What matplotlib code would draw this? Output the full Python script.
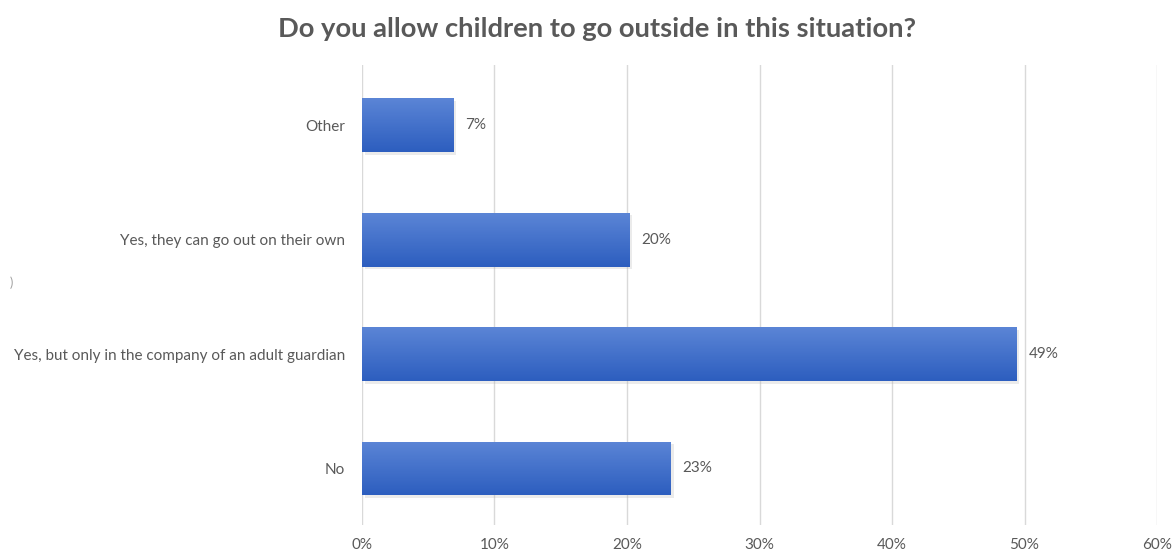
import numpy as np
import matplotlib.pyplot as plt
import matplotlib.patheffects as pe
from matplotlib.colors import LinearSegmentedColormap

# survey answers, bottom to top
answers = ['No', 'Yes, but only in the company of an adult guardian',
           'Yes, they can go out on their own', 'Other']
shares = [23.3, 49.4, 20.2, 6.9]
share_labels = ['23%', '49%', '20%', '7%']
xticks = [0, 10, 20, 30, 40, 50, 60]

plt.rcParams['font.family'] = ['Lato', 'DejaVu Sans']
grey = '#595959'

fig = plt.figure(figsize=(11.73, 5.53), dpi=100)
ax = fig.add_axes([0.3086, 0.0506, 0.6778, 0.8319])

ypos = np.arange(len(answers))
bars = ax.barh(ypos, shares, height=0.47, color='#3f6fcf', zorder=2,
               path_effects=[pe.SimplePatchShadow(offset=(2, -2), shadow_rgbFace='#b0b0b0', alpha=0.25),
                             pe.Normal()])

# vertical gradient inside each bar: lighter on top, darker on bottom
grad = np.linspace(0, 1, 100).reshape(-1, 1)
cmap = LinearSegmentedColormap.from_list('bar', ['#5b85d6', '#2d5ebf'])
for b in bars:
    x0, y0 = b.get_x(), b.get_y()
    im = ax.imshow(grad, cmap=cmap, aspect='auto', zorder=3,
                   extent=[x0, x0 + b.get_width(), y0, y0 + b.get_height()],
                   origin='upper')
    im.set_clip_path(b)

for b, lab in zip(bars, share_labels):
    ax.text(b.get_width() + 0.9, b.get_y() + b.get_height() / 2, lab,
            va='center', ha='left', fontsize=11, color=grey)

ax.set_xlim(0, 60)
ax.set_ylim(-0.494, len(answers) - 0.474)
ax.set_xticks(xticks)
ax.set_xticklabels([f'{t}%' for t in xticks], fontsize=11, color=grey)
ax.set_yticks(ypos)
ax.set_yticklabels(answers, fontsize=11, color=grey)
ax.tick_params(length=0, axis='x', pad=9)
ax.tick_params(length=0, axis='y', pad=12)
ax.grid(axis='x', color='#d9d9d9', linewidth=1, zorder=0)
ax.set_axisbelow(True)
for s in ax.spines.values():
    s.set_visible(False)

fig.text(0.509, 0.948, 'Do you allow children to go outside in this situation?',
         ha='center', va='center', fontsize=19.7, fontweight='bold', color=grey)
fig.text(0.008, 0.488, ')', fontsize=9, color='#a0a0a0', va='center')

fig.savefig('out.png', dpi=100)
